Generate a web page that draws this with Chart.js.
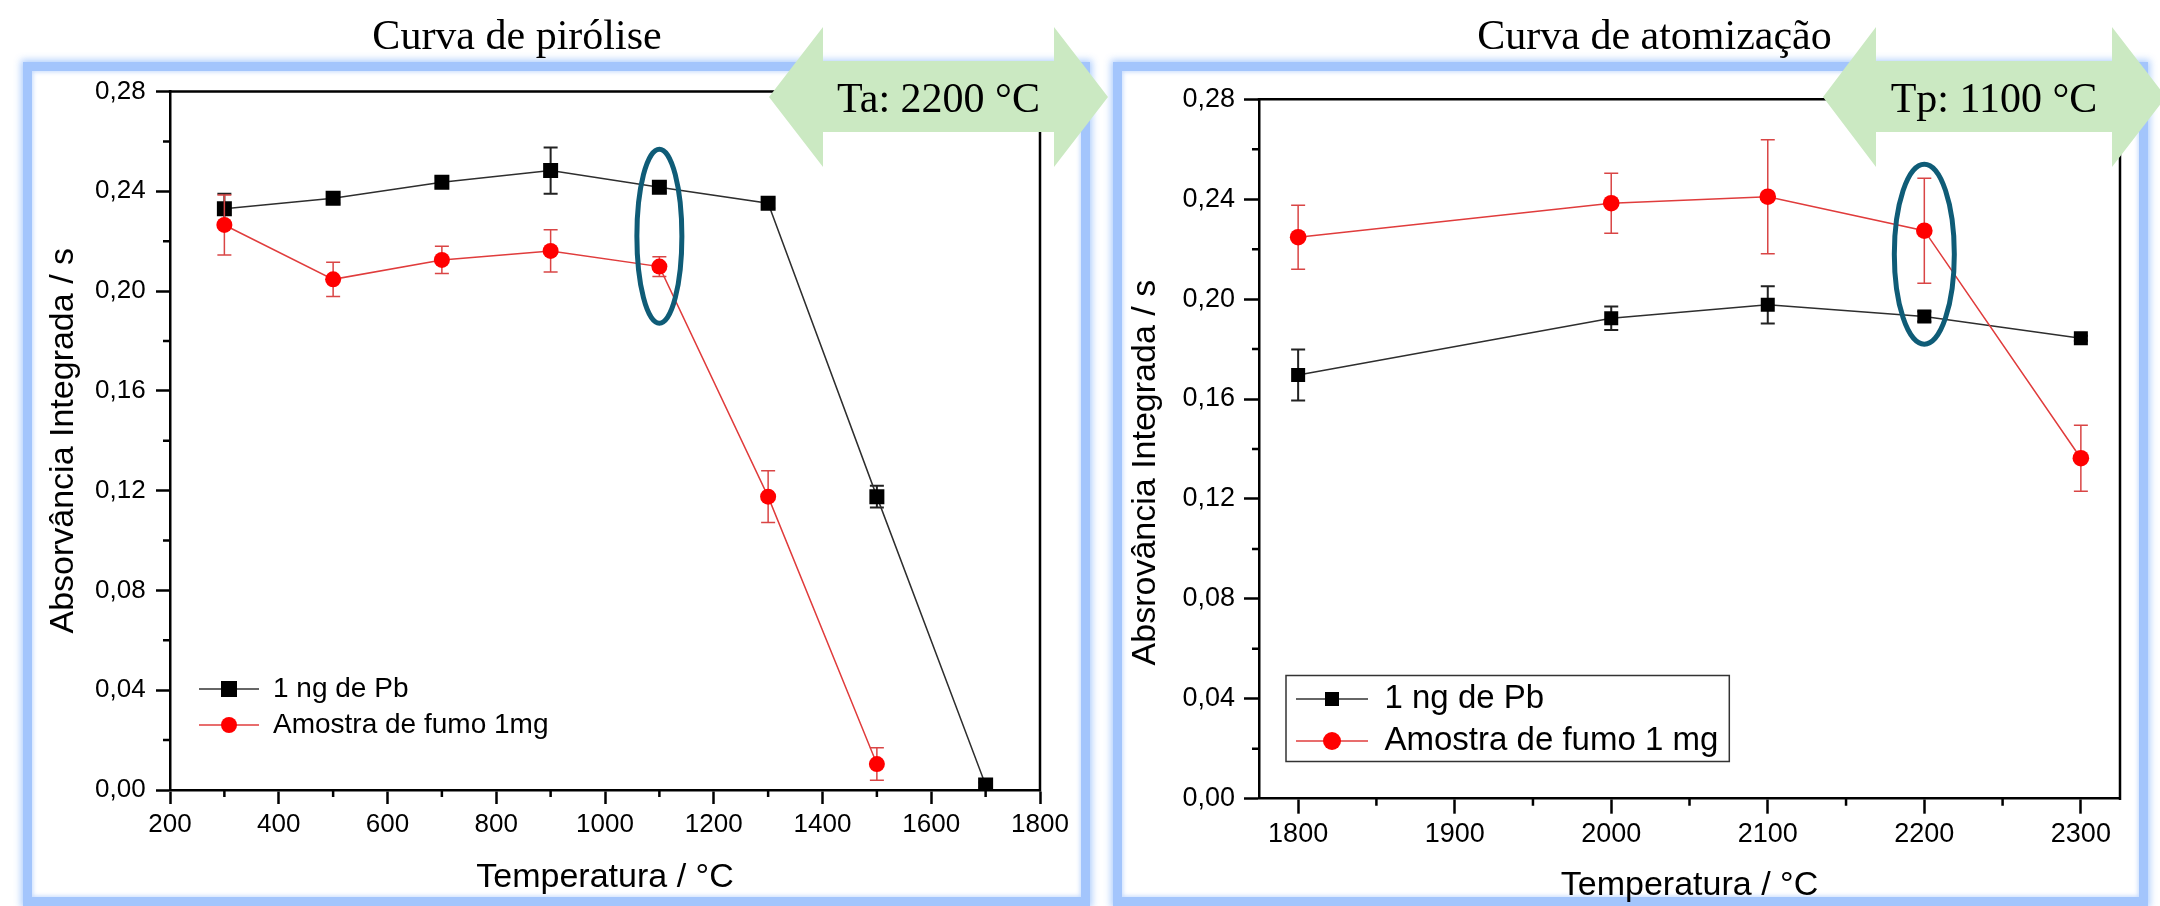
<!DOCTYPE html>
<html>
<head>
<meta charset="utf-8">
<script src="https://cdn.jsdelivr.net/npm/chart.js@4.4.1/dist/chart.umd.min.js"></script>
<style>
html,body{margin:0;padding:0;background:#fff;}
#stage{position:relative;width:2160px;height:906px;overflow:hidden;background:#fff;}
.panel{position:absolute;box-sizing:border-box;border:9px solid #a3c5fc;box-shadow:0 0 7px 2px rgba(160,196,252,0.85), inset 0 0 4px 1px rgba(190,214,253,0.9);background:#fff;}
canvas{position:absolute;left:0;top:0;}
svg{position:absolute;left:0;top:0;}
</style>
</head>
<body>
<div id="stage">
  <div class="panel" style="left:23px;top:62px;width:1067px;height:844px;"></div>
  <div class="panel" style="left:1113px;top:62px;width:1035px;height:844px;"></div>
  <canvas id="c1" width="2160" height="906"></canvas>
  <canvas id="c2" width="2160" height="906"></canvas>
  <svg width="2160" height="906" xmlns="http://www.w3.org/2000/svg">
    <polygon fill="#cbe9c2" points="769,97 823,27 823,61 1054,61 1054,27 1108,97 1054,167 1054,132 823,132 823,167"/>
    <text x="938.5" y="112" text-anchor="middle" font-family="'Liberation Serif','Times New Roman',serif" font-size="42" fill="#000">Ta: 2200 °C</text>
    <polygon fill="#cbe9c2" points="1823,97 1876,27 1876,61 2112,61 2112,27 2166,97 2112,167 2112,132 1876,132 1876,167"/>
    <text x="1994" y="112" text-anchor="middle" font-family="'Liberation Serif','Times New Roman',serif" font-size="42" fill="#000">Tp: 1100 °C</text>
  </svg>
</div>
<script>
// ---------------- data ----------------
const PIRO_TITLE = 'Curva de pirólise';
const ATOM_TITLE = 'Curva de atomização';
const SERIES_NAMES_PIRO = ['1 ng de Pb', 'Amostra de fumo 1mg'];
const SERIES_NAMES_ATOM = ['1 ng de Pb', 'Amostra de fumo 1 mg'];

// Curva de pirólise
const PIRO_T_PB = [300, 500, 700, 900, 1100, 1300, 1500, 1700];
const PIRO_PB = [0.2330, 0.2372, 0.2436, 0.2483, 0.2416, 0.2352, 0.1176, 0.0020];
const PIRO_PB_ERR = [0.006, 0.002, 0.002, 0.0093, 0.002, 0.002, 0.0044, 0.001];
const PIRO_T_FUMO = [300, 500, 700, 900, 1100, 1300, 1500];
const PIRO_FUMO = [0.2265, 0.2047, 0.2125, 0.2161, 0.2098, 0.1176, 0.0104];
const PIRO_FUMO_ERR = [0.012, 0.0069, 0.0055, 0.0085, 0.004, 0.0104, 0.0065];

// Curva de atomização
const ATOM_T = [1800, 2000, 2100, 2200, 2300];
const ATOM_PB = [0.1696, 0.1923, 0.1977, 0.1930, 0.1843];
const ATOM_PB_ERR = [0.0102, 0.0047, 0.0075, 0.002, 0.001];
const ATOM_FUMO = [0.2248, 0.2384, 0.2410, 0.2274, 0.1363];
const ATOM_FUMO_ERR = [0.0128, 0.012, 0.0228, 0.021, 0.0132];

// tick labels
const PIRO_X_TICKS = [200, 400, 600, 800, 1000, 1200, 1400, 1600, 1800];
const PIRO_X_MINOR = [300, 500, 700, 900, 1100, 1300, 1500, 1700];
const ATOM_X_TICKS = [1800, 1900, 2000, 2100, 2200, 2300];
const ATOM_X_MINOR = [1850, 1950, 2050, 2150, 2250];
const Y_TICKS = [0, 0.04, 0.08, 0.12, 0.16, 0.20, 0.24, 0.28];
const Y_MINOR = [0.02, 0.06, 0.10, 0.14, 0.18, 0.22, 0.26];

// highlighted optimum (ellipse annotation centre, in data units)
const PIRO_MARK = {t: 1100, v: 0.222};
const ATOM_MARK = {t: 2200, v: 0.218};

// ---------------- helpers ----------------
const SANS = "'Liberation Sans', Arial, sans-serif";
const SERIF = "'Liberation Serif', 'Times New Roman', serif";
Chart.defaults.color = '#000';
Chart.defaults.font.family = SANS;

const fmtY = v => v.toFixed(2).replace('.', ',');
const pts = (xs, ys) => xs.map((x, i) => ({x: x, y: ys[i]}));

function legendImage(w, fill, lineColor, style, size) {
  const c = document.createElement('canvas');
  c.width = w; c.height = Math.ceil(size) + 4;
  const g = c.getContext('2d');
  const cy = c.height / 2;
  g.strokeStyle = lineColor; g.lineWidth = 1.5;
  g.beginPath(); g.moveTo(0, cy); g.lineTo(w, cy); g.stroke();
  g.fillStyle = fill;
  if (style === 'rect') g.fillRect(w / 2 - size / 2, cy - size / 2, size, size);
  else { g.beginPath(); g.arc(w / 2, cy, size / 2, 0, Math.PI * 2); g.fill(); }
  return c;
}

function decor(cfg) {
  return {
    id: 'decor_' + cfg.name,
    afterLayout(chart) {
      const lg = chart.legend;
      if (lg) {
        lg.left = cfg.legendAt.x; lg.top = cfg.legendAt.y;
        lg.width = 900; lg.height = 400;
        lg.right = lg.left + 900; lg.bottom = lg.top + 400;
      }
      const t = chart.titleBlock;
      if (t) {
        const w = t.right - t.left;
        t.left = cfg.titleCenter - w / 2; t.right = t.left + w;
      }
    },
    beforeDatasetDraw(chart, args) {
      const ds = chart.data.datasets[args.index];
      const err = cfg.errors[args.index];
      if (!err) return;
      const xs = chart.scales.x, ys = chart.scales.y, ctx = chart.ctx;
      const cap = 7;
      ctx.save();
      ctx.strokeStyle = cfg.errColors[args.index];
      ctx.lineWidth = cfg.errWidths[args.index];
      ds.data.forEach((p, i) => {
        const px = xs.getPixelForValue(p.x);
        const y1 = ys.getPixelForValue(p.y + err[i]);
        const y2 = ys.getPixelForValue(Math.max(p.y - err[i], 0));
        ctx.beginPath();
        ctx.moveTo(px, y1); ctx.lineTo(px, y2);
        ctx.moveTo(px - cap, y1); ctx.lineTo(px + cap, y1);
        if (p.y - err[i] > 0) { ctx.moveTo(px - cap, y2); ctx.lineTo(px + cap, y2); }
        ctx.stroke();
      });
      ctx.restore();
    },
    afterDraw(chart) {
      const ctx = chart.ctx;
      const {left, right, top, bottom} = chart.chartArea;
      const xs = chart.scales.x, ys = chart.scales.y;
      ctx.save();
      ctx.strokeStyle = '#000';
      ctx.lineWidth = 2.5;
      ctx.beginPath();
      ctx.moveTo(left - 1.25, top); ctx.lineTo(right, top); ctx.lineTo(right, bottom + 1.25);
      ctx.stroke();
      ctx.lineWidth = 2.5;
      ctx.beginPath();
      cfg.xMinor.forEach(v => { const p = xs.getPixelForValue(v); ctx.moveTo(p, bottom); ctx.lineTo(p, bottom + 7); });
      Y_MINOR.forEach(v => { const p = ys.getPixelForValue(v); ctx.moveTo(left, p); ctx.lineTo(left - 7, p); });
      ctx.stroke();
      // ellipse highlight
      ctx.strokeStyle = '#0f5c77';
      ctx.lineWidth = 5;
      ctx.beginPath();
      ctx.ellipse(xs.getPixelForValue(cfg.mark.t), ys.getPixelForValue(cfg.mark.v), cfg.mark.rx, cfg.mark.ry, 0, 0, Math.PI * 2);
      ctx.stroke();
      // legend frame
      if (cfg.legendBox) {
        const lg = chart.legend;
        const lo = chart.options.plugins.legend.labels;
        ctx.font = lo.font.size + 'px ' + SANS;
        let tw = 0;
        lg.legendItems.forEach(it => { tw = Math.max(tw, ctx.measureText(it.text).width); });
        const w = lo.padding + lo.pointStyleWidth + lo.font.size / 2 + tw + 12;
        ctx.strokeStyle = '#333';
        ctx.lineWidth = 1.5;
        ctx.strokeRect(lg.left - 1, lg.top + 2, w, 86);
      }
      ctx.restore();
    }
  };
}

function build(id, o) {
  const imgs = [
    legendImage(o.legend.bw, '#000', '#333', 'rect', o.legend.sq),
    legendImage(o.legend.bw, '#ff0000', '#e03c3c', 'circle', o.legend.ci)
  ];
  return new Chart(document.getElementById(id), {
    type: 'line',
    data: {
      datasets: [
        {
          label: o.names[0], data: o.pb, order: 1,
          borderColor: '#2e2e2e', borderWidth: 1.5, tension: 0,
          pointStyle: 'rect', pointRadius: o.sqR, pointBackgroundColor: '#000',
          pointBorderColor: '#000', pointBorderWidth: 0, fill: false
        },
        {
          label: o.names[1], data: o.fumo, order: 0,
          borderColor: '#e03c3c', borderWidth: 1.5, tension: 0,
          pointStyle: 'circle', pointRadius: o.ciR, pointBackgroundColor: '#ff0000',
          pointBorderColor: '#ff0000', pointBorderWidth: 0, fill: false
        }
      ]
    },
    options: {
      responsive: false,
      animation: false,
      devicePixelRatio: 1,
      layout: {padding: {left: o.padLeft, right: o.padRight, top: 0, bottom: 0}},
      events: [],
      plugins: {
        tooltip: {enabled: false},
        title: {
          display: true, text: o.title, color: '#000',
          font: {family: SERIF, size: 42, weight: 'normal'},
          padding: {top: 12.3, bottom: o.titleBottom}
        },
        legend: {
          display: true, position: 'chartArea', align: 'start',
          labels: {
            usePointStyle: true, pointStyleWidth: o.legend.bw, boxHeight: 16,
            padding: o.legend.pad, color: '#000',
            font: {family: SANS, size: o.legend.font},
            sort: (a, b) => a.datasetIndex - b.datasetIndex,
            generateLabels(chart) {
              const items = Chart.defaults.plugins.legend.labels.generateLabels(chart);
              items.forEach(it => { it.pointStyle = imgs[it.datasetIndex]; it.fontColor = '#000'; });
              return items;
            }
          }
        }
      },
      scales: {
        x: {
          type: 'linear', min: o.xMin, max: o.xMax,
          afterBuildTicks: s => { s.ticks = o.xTicks.map(v => ({value: v})); },
          afterFit: s => { s.height = o.xHeight; },
          ticks: {autoSkip: false, maxRotation: 0, padding: o.xPad, color: '#000',
                  font: {family: SANS, size: o.tickFont}, callback: v => String(v)},
          grid: {drawOnChartArea: false, drawTicks: true, tickLength: o.tickLen, tickWidth: 2.5, tickColor: '#000'},
          border: {display: true, color: '#000', width: 2.5},
          title: {display: true, text: 'Temperatura / °C', color: '#000',
                  font: {family: SANS, size: 34}, padding: {top: 0, bottom: o.xTitleBottom}}
        },
        y: {
          type: 'linear', min: 0, max: 0.28,
          afterBuildTicks: s => { s.ticks = Y_TICKS.map(v => ({value: v})); },
          afterFit: s => { s.width = o.yWidth; },
          ticks: {autoSkip: false, padding: o.yPad, color: '#000',
                  font: {family: SANS, size: o.tickFont}, callback: v => fmtY(v)},
          grid: {drawOnChartArea: false, drawTicks: true, tickLength: o.tickLen, tickWidth: 2.5, tickColor: '#000'},
          border: {display: true, color: '#000', width: 2.5},
          title: {display: true, text: o.yTitle, color: '#000',
                  font: {family: SANS, size: 34}, padding: {top: o.yTitleTop, bottom: 0}}
        }
      }
    },
    plugins: [decor({
      name: id, legendAt: o.legendAt, legendBox: o.legendBox, titleCenter: o.titleCenter,
      errors: [o.pbErr, o.fumoErr], errColors: ['#222', '#d94545'], errWidths: [2, 1.5],
      xMinor: o.xMinor, mark: o.mark
    })]
  });
}

build('c1', {
  title: PIRO_TITLE, names: SERIES_NAMES_PIRO, titleCenter: 517,
  pb: pts(PIRO_T_PB, PIRO_PB), fumo: pts(PIRO_T_FUMO, PIRO_FUMO),
  pbErr: PIRO_PB_ERR, fumoErr: PIRO_FUMO_ERR,
  xMin: 200, xMax: 1800, xTicks: PIRO_X_TICKS, xMinor: PIRO_X_MINOR,
  padLeft: 0, padRight: 1120, yWidth: 170, xHeight: 116, titleBottom: 28.8,
  tickFont: 26, tickLen: 14, xPad: 5.4, yPad: 10.3,
  xTitleBottom: 7.6, yTitleTop: 42.8, yTitle: 'Absorvância Integrada / s',
  sqR: 10.6, ciR: 8,
  legend: {bw: 60, sq: 16, ci: 16, pad: 8, font: 28},
  legendAt: {x: 191, y: 667}, legendBox: false,
  mark: {t: PIRO_MARK.t, v: PIRO_MARK.v, rx: 22.5, ry: 87}
});

build('c2', {
  title: ATOM_TITLE, names: SERIES_NAMES_ATOM, titleCenter: 1654.5,
  pb: pts(ATOM_T, ATOM_PB), fumo: pts(ATOM_T, ATOM_FUMO),
  pbErr: ATOM_PB_ERR, fumoErr: ATOM_FUMO_ERR,
  xMin: 1775, xMax: 2325, xTicks: ATOM_X_TICKS, xMinor: ATOM_X_MINOR,
  padLeft: 1100, padRight: 40, yWidth: 159, xHeight: 107.3, titleBottom: 36.6,
  tickFont: 27, tickLen: 15, xPad: 5.1, yPad: 9,
  xTitleBottom: 0, yTitleTop: 25.6, yTitle: 'Absrovância Integrada / s     ',
  sqR: 9.9, ciR: 8.3,
  legend: {bw: 72, sq: 14, ci: 18, pad: 9, font: 33},
  legendAt: {x: 1287, y: 673.5}, legendBox: true,
  mark: {t: ATOM_MARK.t, v: ATOM_MARK.v, rx: 30, ry: 90}
});
</script>
</body>
</html>
